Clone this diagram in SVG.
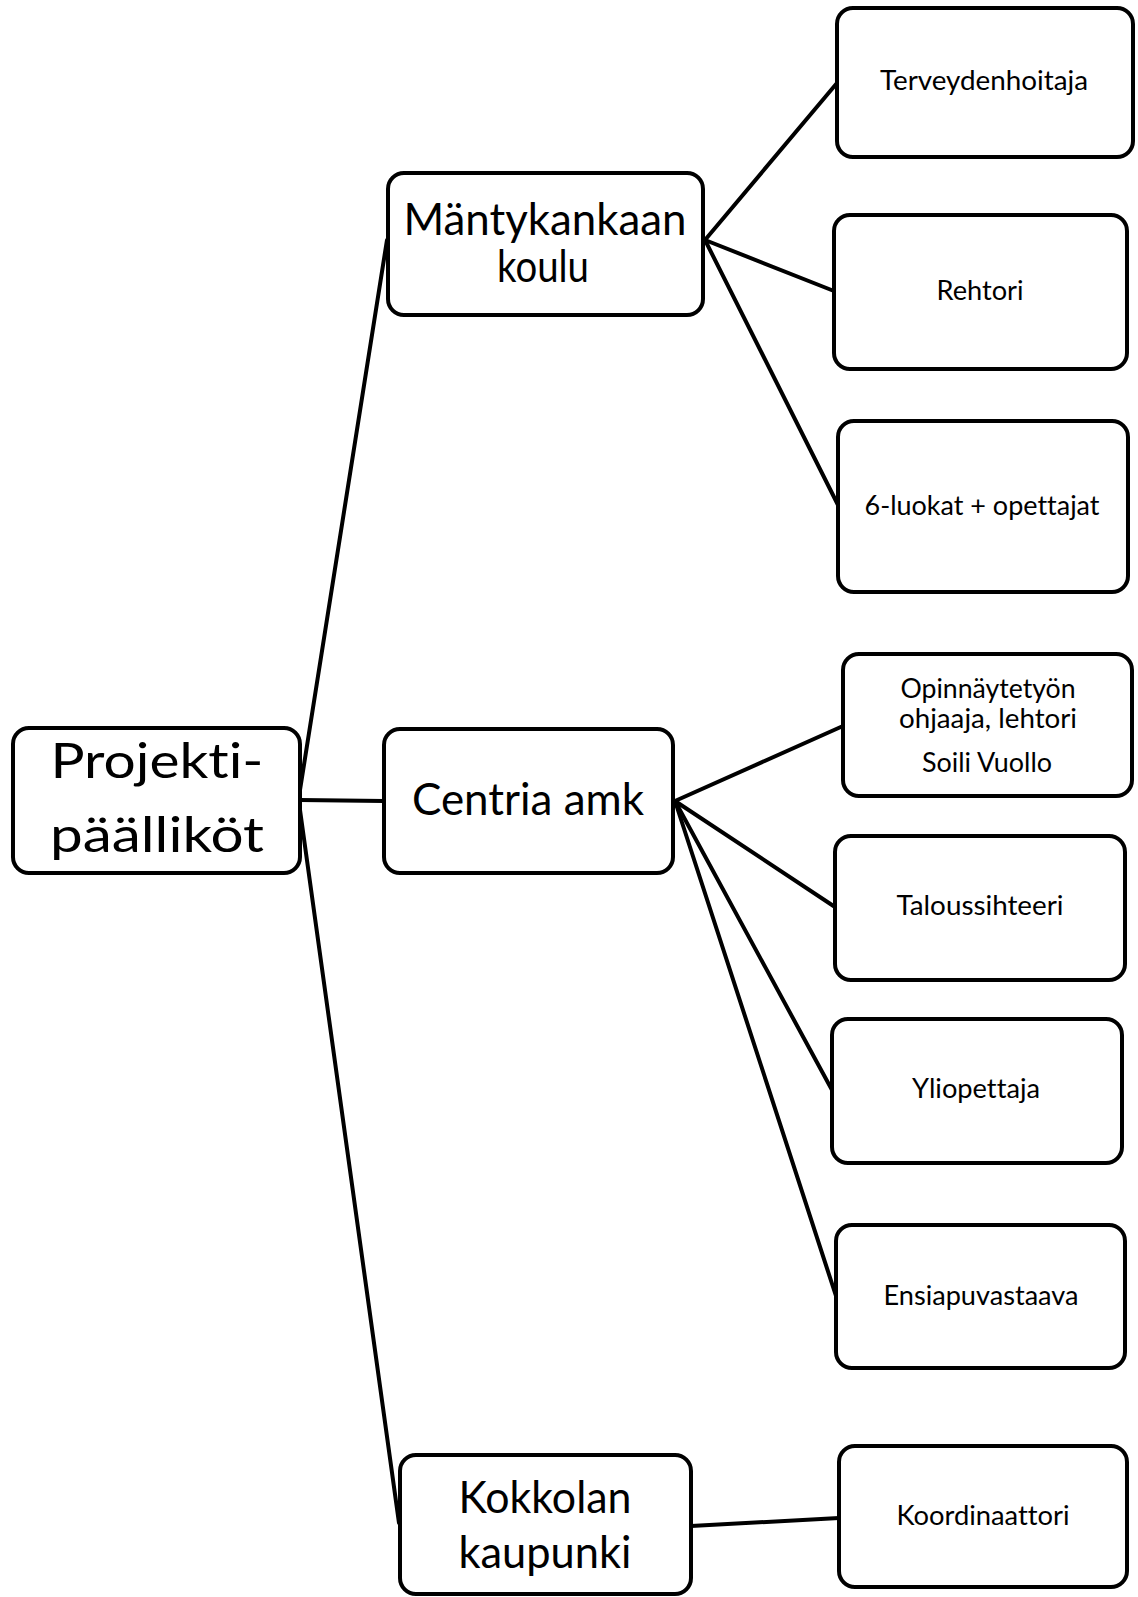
<svg xmlns="http://www.w3.org/2000/svg" width="1138" height="1597" viewBox="0 0 1138 1597">
<style>
.box{fill:#fff;stroke:#000;stroke-width:4}
.ln{stroke:#000;stroke-width:4;fill:none;stroke-linecap:round}
text{font-family:Lato,"Open Sans","Liberation Sans",sans-serif;fill:#000;text-anchor:middle;font-variant-ligatures:none}
.s{font-size:26px}
.l{font-size:44px}
.xl{font-size:49px}
</style>
<rect width="1138" height="1597" fill="#fff"/>
<g id="connectors">
<line class="ln" x1="300" y1="790" x2="387" y2="240"/>
<line class="ln" x1="300" y1="800" x2="384" y2="801"/>
<line class="ln" x1="300" y1="810" x2="399" y2="1523"/>
<line class="ln" x1="705" y1="240" x2="837" y2="83"/>
<line class="ln" x1="705" y1="240" x2="834" y2="291"/>
<line class="ln" x1="705" y1="240" x2="838" y2="505"/>
<line class="ln" x1="675" y1="801" x2="843" y2="726"/>
<line class="ln" x1="675" y1="801" x2="835" y2="907"/>
<line class="ln" x1="675" y1="801" x2="832" y2="1090"/>
<line class="ln" x1="675" y1="801" x2="836" y2="1296"/>
<line class="ln" x1="691" y1="1526" x2="839" y2="1518"/>
</g>
<g id="projektipaallikot">
<rect class="box" x="13" y="728" width="287" height="145" rx="16"/>
<text class="xl" x="157" y="778" textLength="213" lengthAdjust="spacingAndGlyphs">Projekti-</text>
<text class="xl" x="157" y="852" textLength="214" lengthAdjust="spacingAndGlyphs">päälliköt</text>
</g>
<g id="mantykankaan">
<rect class="box" x="388" y="173" width="315" height="142" rx="16"/>
<text class="l" x="545" y="235" textLength="283" lengthAdjust="spacingAndGlyphs">Mäntykankaan</text>
<text class="l" x="543" y="282" textLength="92" lengthAdjust="spacingAndGlyphs">koulu</text>
</g>
<g id="centria">
<rect class="box" x="384" y="729" width="289" height="144" rx="16"/>
<text class="l" x="528" y="815" textLength="232" lengthAdjust="spacingAndGlyphs">Centria amk</text>
</g>
<g id="kokkola">
<rect class="box" x="400" y="1455" width="291" height="139" rx="16"/>
<text class="l" x="545" y="1513" textLength="173" lengthAdjust="spacingAndGlyphs">Kokkolan</text>
<text class="l" x="545" y="1568" textLength="173" lengthAdjust="spacingAndGlyphs">kaupunki</text>
</g>
<g id="terveydenhoitaja">
<rect class="box" x="837" y="8" width="296" height="149" rx="16"/>
<text class="s" x="984" y="90" textLength="208" lengthAdjust="spacingAndGlyphs">Terveydenhoitaja</text>
</g>
<g id="rehtori">
<rect class="box" x="834" y="215" width="293" height="154" rx="16"/>
<text class="s" x="980" y="300" textLength="87" lengthAdjust="spacingAndGlyphs">Rehtori</text>
</g>
<g id="luokat">
<rect class="box" x="838" y="421" width="290" height="171" rx="16"/>
<text class="s" x="982" y="515" textLength="235" lengthAdjust="spacingAndGlyphs">6-luokat + opettajat</text>
</g>
<g id="opinnaytetyo">
<rect class="box" x="843" y="654" width="289" height="142" rx="16"/>
<text class="s" x="988" y="698" textLength="175" lengthAdjust="spacingAndGlyphs">Opinnäytetyön</text>
<text class="s" x="988" y="728" textLength="178" lengthAdjust="spacingAndGlyphs">ohjaaja, lehtori</text>
<text class="s" x="987" y="772" textLength="130" lengthAdjust="spacingAndGlyphs">Soili Vuollo</text>
</g>
<g id="taloussihteeri">
<rect class="box" x="835" y="836" width="290" height="144" rx="16"/>
<text class="s" x="980" y="915" textLength="167" lengthAdjust="spacingAndGlyphs">Taloussihteeri</text>
</g>
<g id="yliopettaja">
<rect class="box" x="832" y="1019" width="290" height="144" rx="16"/>
<text class="s" x="976" y="1098" textLength="128" lengthAdjust="spacingAndGlyphs">Yliopettaja</text>
</g>
<g id="ensiapuvastaava">
<rect class="box" x="836" y="1225" width="289" height="143" rx="16"/>
<text class="s" x="981" y="1305" textLength="195" lengthAdjust="spacingAndGlyphs">Ensiapuvastaava</text>
</g>
<g id="koordinaattori">
<rect class="box" x="839" y="1446" width="288" height="141" rx="16"/>
<text class="s" x="983" y="1525" textLength="173" lengthAdjust="spacingAndGlyphs">Koordinaattori</text>
</g>
</svg>
